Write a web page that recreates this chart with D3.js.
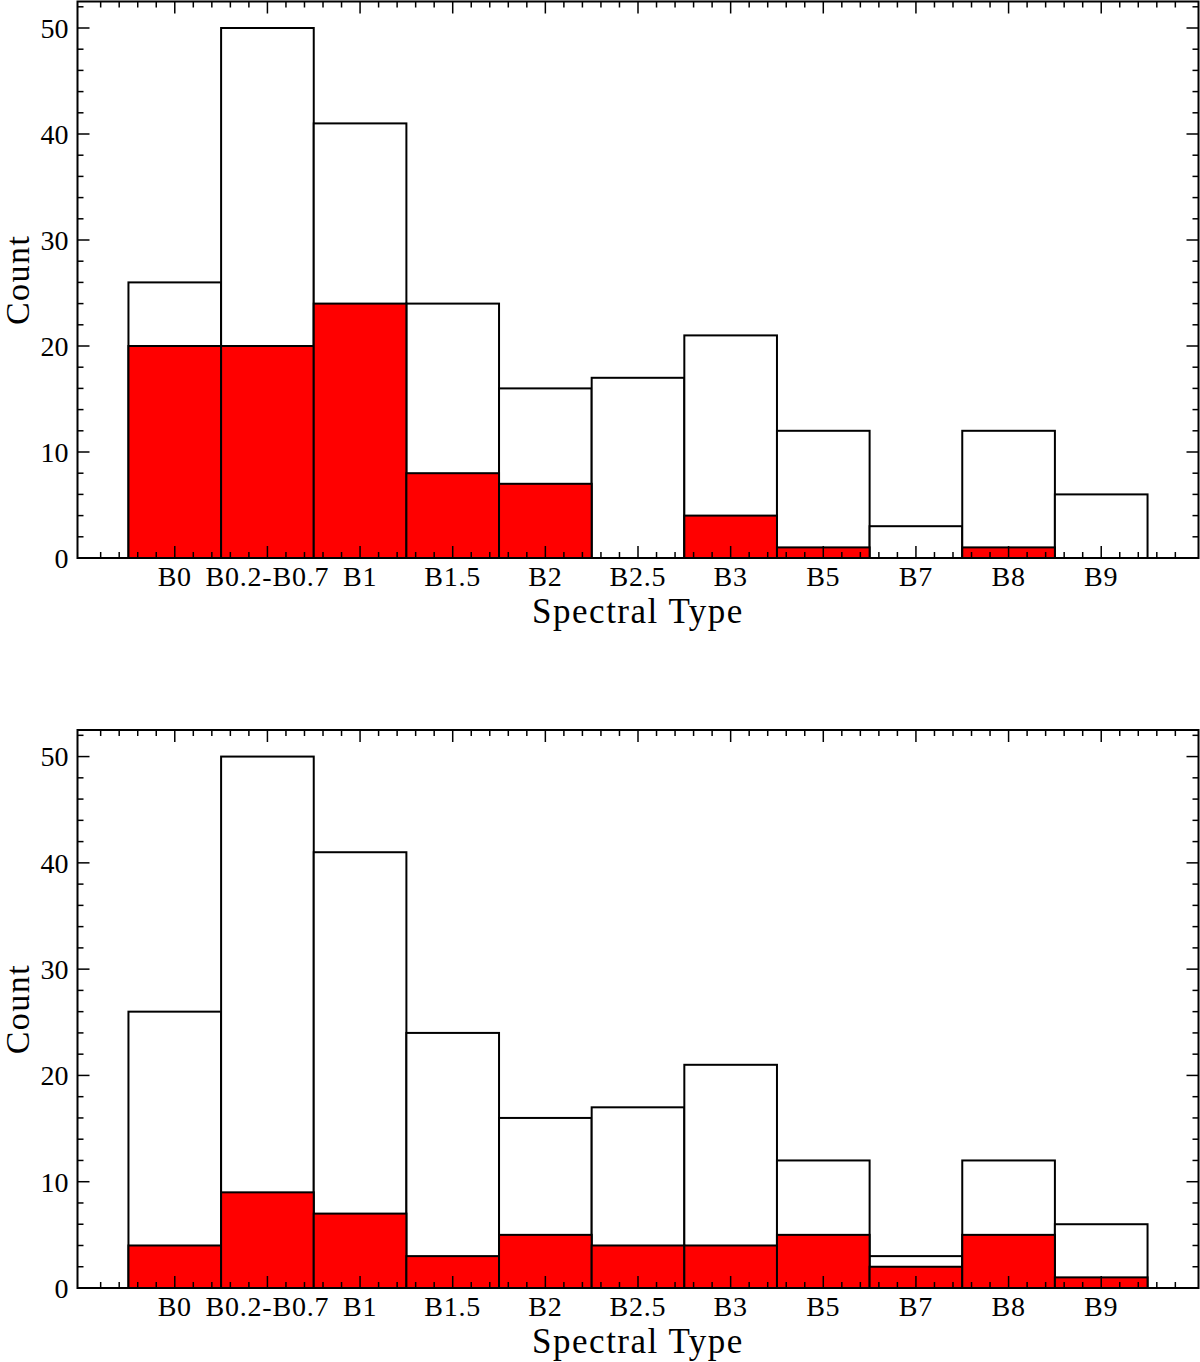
<!DOCTYPE html>
<html>
<head>
<meta charset="utf-8">
<script src="https://cdn.jsdelivr.net/npm/d3@7"></script>
<style>
  body { margin: 0; background: #fff; }
  svg text { font-family: "Liberation Serif", "DejaVu Serif", serif; fill: #000; }
</style>
</head>
<body>
<svg id="chart" width="1200" height="1362"></svg>
<script>
"use strict";

// spectral type bins
const types = ["B0", "B0.2-B0.7", "B1", "B1.5", "B2", "B2.5", "B3", "B5", "B7", "B8", "B9"];
// full sample counts (white bars, same in both panels)
const totalCounts = [26, 50, 41, 24, 16, 17, 21, 12, 3, 12, 6];
// subset counts (red bars)
const topRed = [20, 20, 24, 8, 7, 0, 4, 1, 0, 1, 0];
const bottomRed = [4, 9, 7, 3, 5, 4, 4, 5, 2, 5, 1];
const yMajor = [0, 10, 20, 30, 40, 50];

const svg = d3.select("#chart");
const left = 77.5, right = 1198.5;

const x = d3.scaleLinear().domain([-1.05, 11.05]).range([left, right]);

function panel(top, bottom, red) {
  const y = d3.scaleLinear().domain([0, 52.5]).range([bottom, top]);
  const g = svg.append("g");

  // white totals
  g.selectAll("rect.tot").data(totalCounts).join("rect")
    .attr("class", "tot")
    .attr("x", (d, i) => x(i - 0.5))
    .attr("width", x(1) - x(0))
    .attr("y", d => y(d))
    .attr("height", d => y(0) - y(d))
    .attr("fill", "#fff").attr("stroke", "#000").attr("stroke-width", 2);

  // red subset
  g.selectAll("rect.red").data(red).join("rect")
    .attr("class", "red")
    .attr("x", (d, i) => x(i - 0.5))
    .attr("width", x(1) - x(0))
    .attr("y", d => y(d))
    .attr("height", d => y(0) - y(d))
    .attr("fill", d => d > 0 ? "#ff0000" : "none")
    .attr("stroke", d => d > 0 ? "#000" : "none").attr("stroke-width", 2);

  // ticks, inward on all four sides
  const yMinor = d3.range(0, 52.5, 2).filter(v => v % 10 !== 0);
  const xMajor = d3.range(0, 11);
  const xMinor = d3.range(-5, 56).map(v => v / 5).filter(v => v >= -1.05 && v <= 11.05 && Math.abs(v - Math.round(v)) > 1e-6);

  const tk = g.append("g").attr("stroke", "#000").attr("stroke-width", 1.5);
  const line = (x1, y1, x2, y2) => tk.append("line").attr("x1", x1).attr("y1", y1).attr("x2", x2).attr("y2", y2);
  yMajor.forEach(v => { line(left, y(v), left + 12, y(v)); line(right, y(v), right - 12, y(v)); });
  yMinor.forEach(v => { line(left, y(v), left + 6, y(v)); line(right, y(v), right - 6, y(v)); });
  xMajor.forEach(v => { line(x(v), bottom, x(v), bottom - 12); line(x(v), top, x(v), top + 12); });
  xMinor.forEach(v => { line(x(v), bottom, x(v), bottom - 6); line(x(v), top, x(v), top + 6); });

  // frame
  g.append("rect").attr("x", left).attr("y", top).attr("width", right - left).attr("height", bottom - top)
    .attr("fill", "none").attr("stroke", "#000").attr("stroke-width", 2);

  // tick labels
  g.selectAll("text.yl").data(yMajor).join("text")
    .attr("class", "yl")
    .attr("x", left - 9).attr("y", d => y(d)).attr("dy", "0.35em")
    .attr("text-anchor", "end").attr("font-size", 28)
    .text(d => d);

  g.selectAll("text.xl").data(types).join("text")
    .attr("class", "xl")
    .attr("x", (d, i) => x(i)).attr("y", bottom + 28)
    .attr("text-anchor", "middle").attr("font-size", 28)
    .attr("letter-spacing", 0.8)
    .text(d => d);

  g.append("text").attr("x", (left + right) / 2).attr("y", bottom + 65)
    .attr("text-anchor", "middle").attr("font-size", 35).attr("letter-spacing", 1.5)
    .text("Spectral Type");

  g.append("text")
    .attr("transform", `translate(29,${(top + bottom) / 2}) rotate(-90)`)
    .attr("text-anchor", "middle").attr("font-size", 34).attr("letter-spacing", 1.5)
    .text("Count");
}

panel(1.5, 558, topRed);
panel(730, 1288, bottomRed);
</script>
</body>
</html>
